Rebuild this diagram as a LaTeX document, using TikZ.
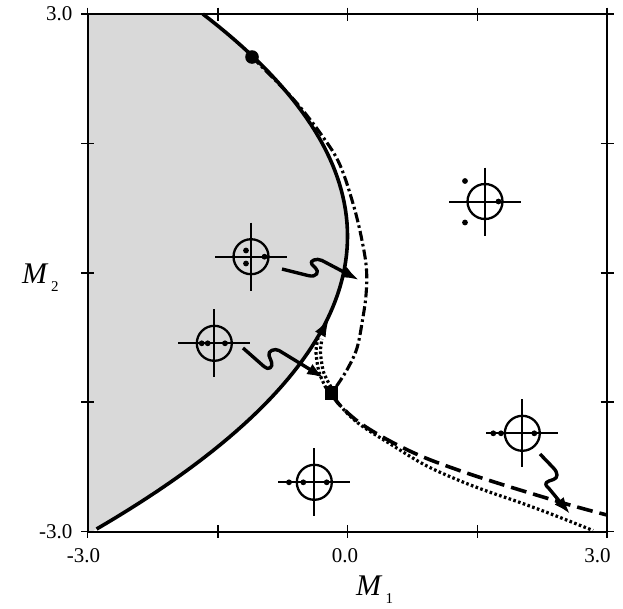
\documentclass[tikz,border=0pt]{standalone}
\usepackage{fontspec}
\setmainfont{Liberation Serif}
\usetikzlibrary{arrows.meta,calc}
\begin{document}
\begin{tikzpicture}[x=1pt,y=-1pt,
  axisframe/.style={line width=2pt},
  tickmark/.style={line width=1.8pt},
  bound/.style={line width=3.6pt},
  ddline/.style={line width=3.1pt, dash pattern=on 10pt off 3.2pt on 2.6pt off 3.2pt},
  dashline/.style={line width=3.6pt, dash pattern=on 16pt off 7pt},
  dotline/.style={line width=3.2pt, dash pattern=on 2.6pt off 2.4pt},
  squig/.style={line width=3.4pt, line join=round, -{Latex[length=17pt,width=12pt]}},
  crossline/.style={line width=2pt},
  rootring/.style={line width=2.3pt},
  ticklab/.style={font=\fontsize{21}{21}\selectfont, inner sep=0pt},
  axlab/.style={font=\fontsize{30}{30}\selectfont\itshape, inner sep=0pt, anchor=base west},
  sublab/.style={font=\fontsize{15}{15}\selectfont, inner sep=0pt, anchor=base west},
  rootsym/.pic={
    \draw[crossline] (-36,0) -- (36,0);
    \draw[crossline] (0,-34) -- (0,34);
    \draw[rootring] (0,0) circle[radius=17.5];
  }
]
\useasboundingbox (0,0) rectangle (623,608);
% shaded region
\fill[black!15] (87.5,14) -- plot[domain=14:531.5, samples=80, variable=\t] ({347.5-29.28*((236.27-\t)/100)^2}, \t) -- (87.5,531.5) -- cycle;
% frame and ticks
\draw[axisframe] (87.5,14) rectangle (607,531.5);
\foreach \u in {87.5,217.6,347.5,477.4,607} {
  \draw[tickmark] (\u,7.5) -- (\u,20.5);
  \draw[tickmark] (\u,525) -- (\u,538);
}
\foreach \v in {14,143.4,272.75,402.1,531.5} {
  \draw[tickmark] (81,\v) -- (94,\v);
  \draw[tickmark] (600.5,\v) -- (613.5,\v);
}
% tick labels
\node[ticklab, anchor=east] (ly3) at (72.5,14) {3.0};
\node[ticklab, anchor=east] (lym3) at (72.5,531.5) {-3.0};
\node[ticklab] (lxm3) at (83.5,556) {-3.0};
\node[ticklab] (lx0) at (345,556) {0.0};
\node[ticklab] (lx3) at (597.5,556) {3.0};
% axis labels
\node[axlab] (m1) at (356,595) {M};
\node[sublab] (m1s) at (385.5,603) {1};
\node[axlab] (m2) at (22,283) {M};
\node[sublab] (m2s) at (51,291) {2};
% special points
\coordinate (dot) at (252,57);
\coordinate (sq) at (331.5,392.5);
% dash-dot curve
\draw[ddline] plot[smooth, tension=0.6] coordinates {(dot) (276.5,81.5) (298,104.5) (323,137) (340,165) (354,207) (362.5,243) (366.5,270) (366,295) (362.5,320) (357,348) (348,368) (338,384) (sq)};
% boundary curve
\draw[bound] plot[domain=14:529, samples=80, variable=\t] ({347.5-29.28*((236.27-\t)/100)^2}, \t);
% dashed curve
\draw[dashline] plot[smooth, tension=0.6] coordinates {(sq) (338,403) (358,421.5) (388,440) (422,456.5) (458,470) (488,480) (520,490) (570,505) (607,515)};
% dotted curve
\draw[dotline] plot[smooth, tension=0.6] coordinates {(sq) (338,403) (358,423) (392,445) (425,465) (458,480) (488,491.5) (520,502.5) (555,515.5) (593,530.5)};
% dotted segment to the arrow on the boundary
\draw[dotline] plot[smooth] coordinates {(326,388) (319,372) (316,352) (318,338)};
\draw[dotline] plot[smooth] coordinates {(331,387) (323.5,372) (320.5,352) (322,339)};
\coordinate (atip) at (328.5,319.5);
\coordinate (abase) at (319.5,336);
\draw[line width=1pt, -{Latex[length=17pt,width=12pt]}] (abase) -- (atip);
% markers
\fill (dot) circle[radius=6.8];
\fill ($(sq)+(-6.5,-7)$) rectangle ($(sq)+(6.5,7)$);
% root diagrams
\pic (symA) at (485,201.5) {rootsym};
\fill (465,181) circle[radius=2.9];
\fill (465,222.5) circle[radius=2.9];
\fill (498.5,201.5) circle[radius=2.9];
\pic (symB) at (251,256.7) {rootsym};
\fill (246,250.5) circle[radius=2.9];
\fill (246,263.5) circle[radius=2.9];
\fill (264.5,256.7) circle[radius=2.9];
\pic (symC) at (214.3,343.3) {rootsym};
\fill (201.7,343.3) circle[radius=2.9];
\fill (207.7,343.3) circle[radius=2.9];
\fill (225,343.3) circle[radius=2.9];
\pic (symD) at (314.3,482.3) {rootsym};
\fill (289,482.3) circle[radius=2.9];
\fill (303.3,482.3) circle[radius=2.9];
\fill (326.7,482.3) circle[radius=2.9];
\pic (symE) at (522.3,433.3) {rootsym};
\fill (493.3,433.3) circle[radius=2.9];
\fill (501,433.3) circle[radius=2.9];
\fill (534.3,433.3) circle[radius=2.9];
% squiggle arrows
\draw[squig] (282,269) -- (308,275.5) .. controls (317,278) and (319.5,271.5) .. (315.5,268) -- (312,264.5) .. controls (308.5,261) and (316.5,257.5) .. (322,260.5) -- (359,280);
\draw[squig] (243,348) -- (264,366.5) .. controls (268.5,371) and (273.5,367) .. (271.5,362) -- (269,355.5) .. controls (267.5,351) and (274.7,348) .. (279,350.5) -- (324,378);
\draw[squig] (540,454) -- (553,467.5) .. controls (558.5,473) and (558,478) .. (553.5,479.5) -- (549,481) .. controls (543.5,483) and (546,486) .. (549,488.5) -- (570,514);
\end{tikzpicture}
\end{document}
